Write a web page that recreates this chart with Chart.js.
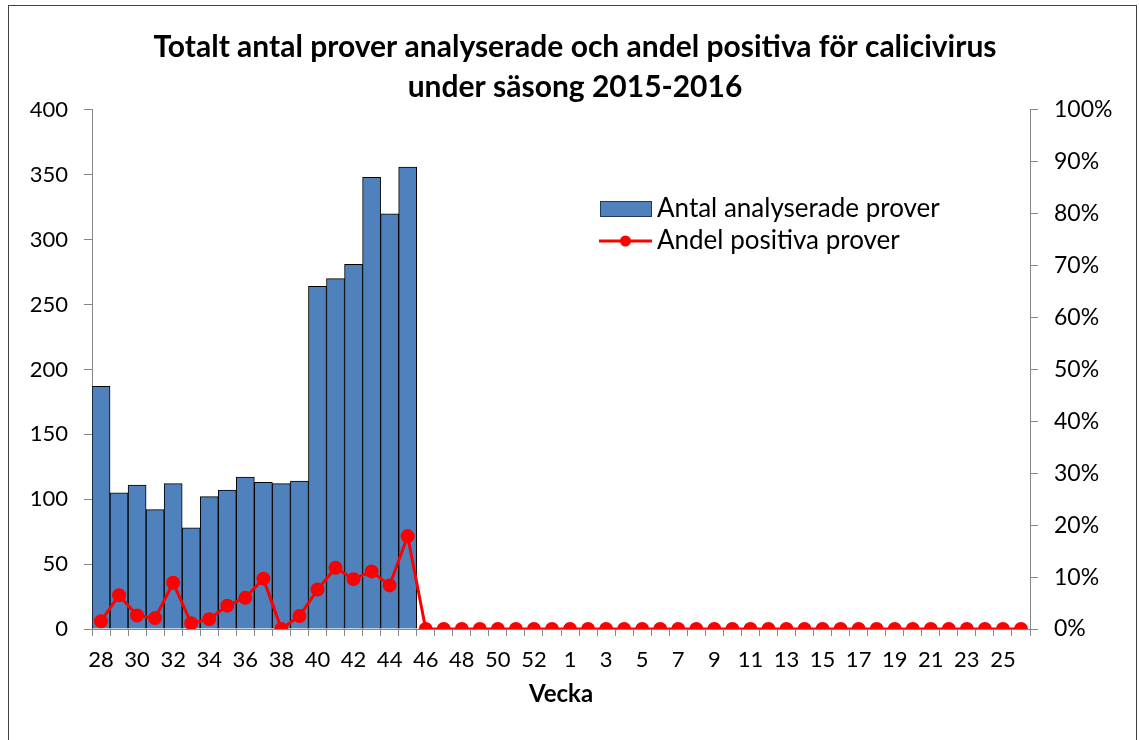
<!DOCTYPE html>
<html>
<head>
<meta charset="utf-8">
<script src="https://cdn.jsdelivr.net/npm/chart.js@4.4.1/dist/chart.umd.min.js"></script>
<style>
  html, body { margin: 0; padding: 0; background: #ffffff; }
  #wrap { position: relative; width: 1139px; height: 740px; }
  canvas { display: block; }
</style>
</head>
<body>
<div id="wrap"><canvas id="c" width="1139" height="740"></canvas></div>
<script>
const weeks = ['28','29','30','31','32','33','34','35','36','37','38','39','40','41','42','43','44','45','46','47','48','49','50','51','52','53',
               '1','2','3','4','5','6','7','8','9','10','11','12','13','14','15','16','17','18','19','20','21','22','23','24','25','26'];
const antalProver = [187,105,111,92,112,78,102,107,117,113,112,114,264,270,281,348,320,356,
                     null,null,null,null,null,null,null,null,
                     null,null,null,null,null,null,null,null,null,null,null,null,null,null,null,null,null,null,null,null,null,null,null,null,null,null];
const andelPositiva = [1.5,6.5,2.6,2.1,8.9,1.1,1.9,4.5,6.0,9.7,0,2.5,7.6,11.8,9.6,11.1,8.4,17.9,
                       0,0,0,0,0,0,0,0,
                       0,0,0,0,0,0,0,0,0,0,0,0,0,0,0,0,0,0,0,0,0,0,0,0,0,0];
const titleLines = ['Totalt antal prover analyserade och andel positiva för calicivirus', 'under säsong 2015-2016'];
const xTitle = 'Vecka';
const seriesNames = ['Antal analyserade prover', 'Andel positiva prover'];

const FONT = 'Lato, "Liberation Sans", sans-serif';
const AXIS = '#868686';

const frame = {
  id: 'frame',
  beforeDraw(chart) {
    const ctx = chart.ctx;
    ctx.save();
    ctx.fillStyle = '#ffffff';
    ctx.fillRect(0, 0, chart.width, chart.height);
    ctx.strokeStyle = '#404040';
    ctx.lineWidth = 1;
    ctx.strokeRect(8.5, 5.5, 1128, 760);
    ctx.restore();
  }
};

const innerLegend = {
  id: 'innerLegend',
  afterDraw(chart) {
    const ctx = chart.ctx;
    const ds = chart.data.datasets;
    const bar = ds.find(d => d.type === 'bar');
    const line = ds.find(d => d.type === 'line');
    ctx.save();
    ctx.font = '26px ' + FONT;
    ctx.textBaseline = 'middle';
    // bar entry
    ctx.fillStyle = bar.backgroundColor;
    ctx.fillRect(600, 201, 52, 16);
    ctx.strokeStyle = '#1f3a5f';
    ctx.lineWidth = 1;
    ctx.strokeRect(600.5, 201.5, 51, 15);
    ctx.fillStyle = '#000000';
    ctx.fillText(bar.label, 657, 209);
    // line entry
    ctx.strokeStyle = line.borderColor;
    ctx.lineWidth = 3;
    ctx.beginPath();
    ctx.moveTo(599, 241);
    ctx.lineTo(652, 241);
    ctx.stroke();
    ctx.fillStyle = line.pointBackgroundColor;
    ctx.beginPath();
    ctx.arc(625.5, 241, 5.5, 0, Math.PI * 2);
    ctx.fill();
    ctx.fillStyle = '#000000';
    ctx.fillText(line.label, 657, 241);
    ctx.restore();
  }
};

new Chart(document.getElementById('c'), {
  data: {
    labels: weeks,
    datasets: [
      {
        type: 'line',
        label: seriesNames[1],
        data: andelPositiva,
        yAxisID: 'y1',
        borderColor: '#FF0000',
        backgroundColor: '#FF0000',
        pointBackgroundColor: '#FF0000',
        pointBorderColor: '#FF0000',
        borderWidth: 3,
        pointRadius: 5.5,
        tension: 0,
        order: 1
      },
      {
        type: 'bar',
        label: seriesNames[0],
        data: antalProver,
        yAxisID: 'y',
        backgroundColor: '#4F81BD',
        borderColor: '#000000',
        borderWidth: 1,
        barPercentage: 1,
        categoryPercentage: 1,
        order: 2
      }
    ]
  },
  options: {
    responsive: false,
    animation: false,
    layout: { padding: { left: 11, right: 0, top: 0, bottom: 0 } },
    plugins: {
      legend: { display: false },
      tooltip: { enabled: false },
      title: {
        display: true,
        text: titleLines,
        color: '#000000',
        font: { family: FONT, size: 30, weight: 'bold', lineHeight: 1.333 },
        padding: { top: 27, bottom: 3 }
      }
    },
    scales: {
      x: {
        type: 'category',
        offset: true,
        afterFit(scale) { scale.height = 111; },
        grid: { display: true, drawOnChartArea: false, drawTicks: true, tickLength: 7, color: AXIS, offset: true },
        border: { display: true, color: AXIS, width: 1 },
        ticks: {
          autoSkip: false, maxRotation: 0, minRotation: 0, padding: 11,
          color: '#000000', font: { family: FONT, size: 22 },
          callback(value, index) { return index % 2 === 0 ? weeks[index] : ''; }
        },
        title: {
          display: true, text: xTitle, color: '#000000',
          font: { family: FONT, size: 24, weight: 'bold' },
          padding: { top: 0, bottom: 31 }
        }
      },
      y: {
        position: 'left',
        min: 0, max: 400,
        afterFit(scale) { scale.width = 81; },
        grid: { display: true, drawOnChartArea: false, drawTicks: true, tickLength: 8, color: AXIS },
        border: { display: true, color: AXIS, width: 1 },
        ticks: { stepSize: 50, padding: 16, color: '#000000', font: { family: FONT, size: 22 } }
      },
      y1: {
        position: 'right',
        min: 0, max: 100,
        afterFit(scale) { scale.width = 109; },
        grid: { display: true, drawOnChartArea: false, drawTicks: true, tickLength: 8, color: AXIS },
        border: { display: true, color: AXIS, width: 1 },
        ticks: { stepSize: 10, padding: 16, color: '#000000', font: { family: FONT, size: 23 },
                 callback(v) { return v + '%'; } }
      }
    }
  },
  plugins: [frame, innerLegend]
});
</script>
</body>
</html>
